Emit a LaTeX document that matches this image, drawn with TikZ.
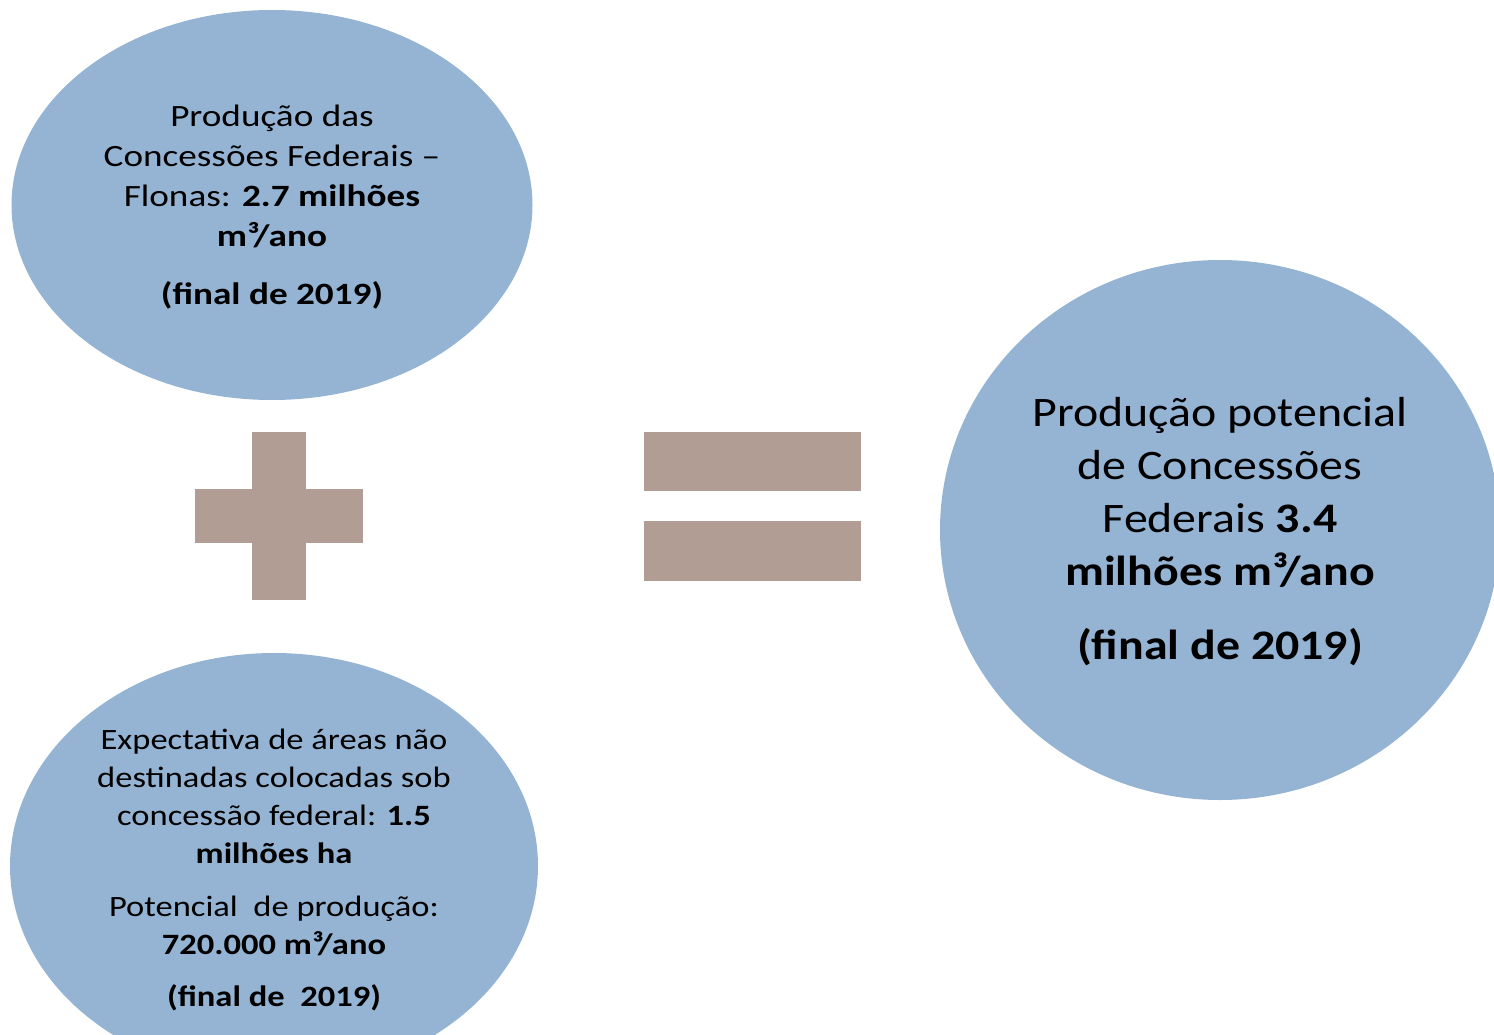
\documentclass[tikz,border=0pt]{standalone}
\usepackage{fontspec}
\setmainfont{Carlito}
\newfontfamily\fontA{Carlito}[FakeStretch=1.2]
\newfontfamily\fontB{Carlito}[FakeStretch=1.17]
\newfontfamily\fontC{Carlito}[FakeStretch=1.14]
\usetikzlibrary{shapes.geometric}
\definecolor{blobblue}{RGB}{149,180,211}
\definecolor{signbrown}{RGB}{177,157,148}
\tikzset{
  blob/.style={ellipse, fill=blobblue, draw=none, inner sep=0pt, align=center, text=black},
  bar/.style={rectangle, fill=signbrown, draw=none, inner sep=0pt, minimum width=#1},
}
\begin{document}
\begin{tikzpicture}[x=1pt,y=-1pt]
\useasboundingbox (0,0) rectangle (1494,1035);
\clip (0,0) rectangle (1494,1035);
% top-left ellipse
\node[blob, minimum width=521pt, minimum height=390pt] (flonas) at (272,205) {};
\node[align=center, inner sep=0pt, font={\fontA\fontsize{31}{40}\selectfont}] (flonastext) at (272,207.5)
  {Produção das\\Concessões Federais –\\Flonas: \textbf{2.7 milhões}\\\textbf{m³/ano}\\[18pt]\textbf{(final de 2019)}};
% bottom-left ellipse
\node[blob, minimum width=528pt, minimum height=426pt] (areas) at (274,866) {};
\node[align=center, inner sep=0pt, font={\fontB\fontsize{29.5}{38}\selectfont}] (areastext) at (274,870)
  {Expectativa de áreas não\\destinadas colocadas sob\\concessão federal: \textbf{1.5}\\\textbf{milhões ha}\\[15pt]Potencial\ \ de produção:\\\textbf{720.000 m³/ano}\\[14pt]\textbf{(final de\ \ 2019)}};
% right ellipse
\node[blob, minimum width=560pt, minimum height=540pt] (total) at (1220,530) {};
\node[align=center, inner sep=0pt, font={\fontC\fontsize{42}{53}\selectfont}] (totaltext) at (1220,532)
  {Produção potencial\\de Concessões\\Federais \textbf{3.4}\\\textbf{milhões m³/ano}\\[21pt]\textbf{(final de 2019)}};
% plus sign
\node[bar=54pt, minimum height=168pt] (plusv) at (279,516) {};
\node[bar=168pt, minimum height=54pt] (plush) at (279,516) {};
% equals sign
\node[bar=217pt, minimum height=59pt] (eqtop) at (752.5,461.5) {};
\node[bar=217pt, minimum height=60pt] (eqbot) at (752.5,551) {};
\end{tikzpicture}
\end{document}
